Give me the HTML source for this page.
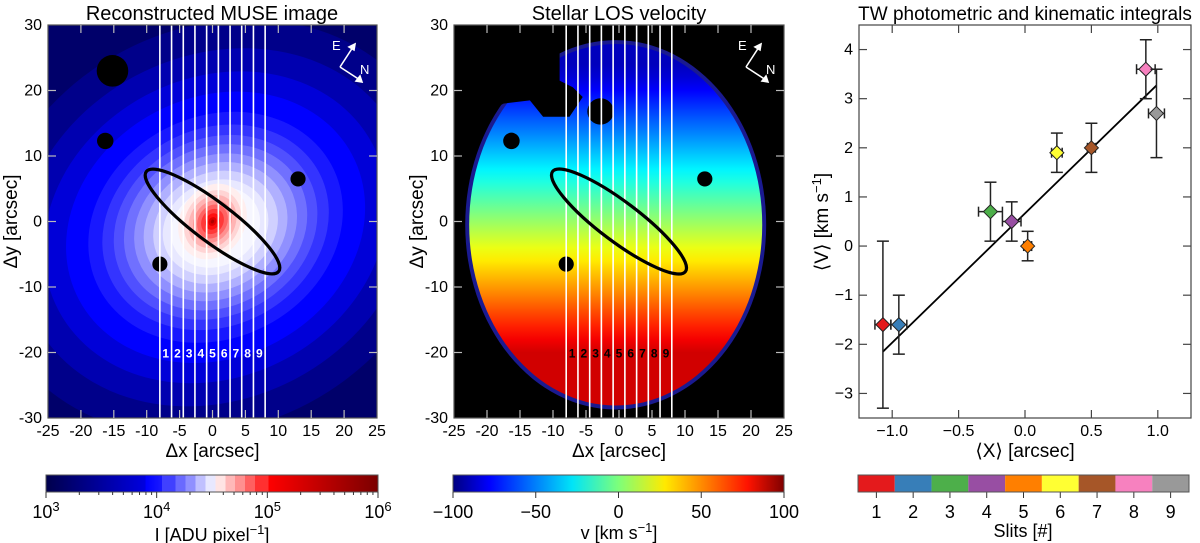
<!DOCTYPE html>
<html><head><meta charset="utf-8"><style>
html,body{margin:0;padding:0;background:#fff;}
svg{display:block;font-family:"Liberation Sans",sans-serif;}
.tl{font-size:16px;fill:#000;}
.cb{font-family:"Liberation Sans Narrow","Liberation Sans",sans-serif;font-size:18px;fill:#000;}
</style></head><body>
<svg id="fig" width="1200" height="543" viewBox="0 0 1200 543" xmlns="http://www.w3.org/2000/svg">
<defs>
 <clipPath id="clipL"><rect x="48" y="25" width="329" height="393"/></clipPath>
 <clipPath id="clipM"><rect x="454" y="25" width="330" height="393"/></clipPath>
 <linearGradient id="cbI" x1="0" x2="1" y1="0" y2="0">
  <stop offset="0" stop-color="#00004c"/><stop offset="0.3" stop-color="#0000e0"/>
  <stop offset="0.3" stop-color="#0000ff"/><stop offset="0.35" stop-color="#1a1aff"/>
  <stop offset="0.35" stop-color="#4040ff"/><stop offset="0.39" stop-color="#4040ff"/>
  <stop offset="0.39" stop-color="#6a6aff"/><stop offset="0.42" stop-color="#6a6aff"/>
  <stop offset="0.42" stop-color="#9090ff"/><stop offset="0.45" stop-color="#9090ff"/>
  <stop offset="0.45" stop-color="#c0c0ff"/><stop offset="0.48" stop-color="#c0c0ff"/>
  <stop offset="0.48" stop-color="#e8e8ff"/><stop offset="0.51" stop-color="#e8e8ff"/>
  <stop offset="0.51" stop-color="#ffe4e4"/><stop offset="0.54" stop-color="#ffe4e4"/>
  <stop offset="0.54" stop-color="#ffb8b8"/><stop offset="0.57" stop-color="#ffb8b8"/>
  <stop offset="0.57" stop-color="#ff9090"/><stop offset="0.6" stop-color="#ff9090"/>
  <stop offset="0.6" stop-color="#ff6060"/><stop offset="0.63" stop-color="#ff6060"/>
  <stop offset="0.63" stop-color="#ff3030"/><stop offset="0.67" stop-color="#ff3030"/>
  <stop offset="0.67" stop-color="#ff0000"/><stop offset="1" stop-color="#7a0000"/>
 </linearGradient>
 <linearGradient id="cbV" x1="0" x2="1" y1="0" y2="0">
  <stop offset="0" stop-color="#00007f"/><stop offset="0.11" stop-color="#0000ff"/>
  <stop offset="0.36" stop-color="#00e4f8"/><stop offset="0.5" stop-color="#7dff7a"/>
  <stop offset="0.64" stop-color="#ffea00"/><stop offset="0.89" stop-color="#ff1300"/>
  <stop offset="1" stop-color="#7f0000"/>
 </linearGradient>
 <linearGradient id="velG" x1="0" x2="0" y1="0" y2="1" gradientUnits="userSpaceOnUse"></linearGradient>
</defs>
<g id="root"></g>
</svg>
<script>
// ---------- data ----------
const slitIds = [1,2,3,4,5,6,7,8,9];
const slitColors = ["#e41a1c","#377eb8","#4daf4a","#984ea3","#ff7f00","#ffff33","#a65628","#f781bf","#999999"];
const meanX = [-1.07,-0.95,-0.26,-0.10,0.02,0.24,0.50,0.91,0.99];
const meanV = [-1.6,-1.6,0.7,0.5,0.0,1.9,2.0,3.6,2.7];
const errV = [1.7,0.6,0.6,0.4,0.3,0.4,0.5,0.6,0.9];
const errX = [0.06,0.06,0.09,0.07,0.03,0.04,0.03,0.07,0.06];
const fitLine = [[-1.07,-2.15],[0.99,3.27]];
const slitEdges = [-8,-6.22,-4.44,-2.67,-0.89,0.89,2.67,4.44,6.22,8];
const imgXTicks = [-25,-20,-15,-10,-5,0,5,10,15,20,25];
const imgYTicks = [-30,-20,-10,0,10,20,30];
const rightXTicks = [-1.0,-0.5,0.0,0.5,1.0];
const rightYTicks = [-3,-2,-1,0,1,2,3,4];
const stars = [[-15.2,23,2.4],[-16.3,12.3,1.25],[13,6.5,1.15],[-8,-6.5,1.15]];
const velTicks = [-100,-50,0,50,100];

const NS="http://www.w3.org/2000/svg";
const root=document.getElementById('root');
function el(tag,attrs,parent,text){const e=document.createElementNS(NS,tag);for(const k in attrs)e.setAttribute(k,attrs[k]);if(text!==undefined)e.textContent=text;(parent||root).appendChild(e);return e;}

function mkPanel(x0){
  const w=x0===48?329:330;
  return {x0:x0,w:w,X:a=>x0+(a+25)*w/50,Y:b=>25+(30-b)*393/60,s:w/50};
}
const L=mkPanel(48), M=mkPanel(454);

// Left image
let gL=el('g',{'clip-path':'url(#clipL)'});


el('rect',{x:48,y:25,width:329,height:393,fill:'#00006a'},gL);
const outerRings=[[36,'#00008a'],[31,'#0000b0'],[27,'#0000d8'],[23.5,'#0000ff'],[20,'#1818ff'],[17.8,'#3434ff'],[16,'#5050ff'],[14.4,'#7070ff'],[12.8,'#9090ff'],[11.3,'#b0b0ff'],[9.8,'#d0d0ff'],[8.3,'#e8e8ff'],[7,'#f6f6ff']];
const coreRings=[[6,'#ffeeee'],[5,'#ffd4d4'],[4.2,'#ffb4b4'],[3.4,'#ff9090'],[2.7,'#ff6464'],[2,'#ff3838'],[1.3,'#ff1010'],[0.7,'#e00000'],[0.3,'#b00000']];
outerRings.forEach(r=>{
  el('ellipse',{cx:L.X(0),cy:L.Y(-1),rx:r[0]*L.s,ry:r[0]*L.s*0.84,fill:r[1],transform:`rotate(-28 ${L.X(0)} ${L.Y(0)})`},gL);
});
coreRings.forEach(r=>{
  el('ellipse',{cx:L.X(0),cy:L.Y(0),rx:r[0]*L.s*0.82,ry:r[0]*L.s,fill:r[1],transform:`rotate(30 ${L.X(0)} ${L.Y(0)})`},gL);
});

// Middle velocity map
function jet(v){let t=(v+100)/200;t=Math.max(0,Math.min(1,t));
  const r=Math.max(0,Math.min(1,1.5-Math.abs(4*t-3))),g=Math.max(0,Math.min(1,1.5-Math.abs(4*t-2))),b=Math.max(0,Math.min(1,1.5-Math.abs(4*t-1)));
  return `rgb(${Math.round(r*255)},${Math.round(g*255)},${Math.round(b*255)})`;}
const vg=document.getElementById('velG');
vg.setAttribute('y1',M.Y(30));vg.setAttribute('y2',M.Y(-30));
for(let b=30;b>=-30;b-=2){const v=Math.max(-88,Math.min(84,5-4*b));el('stop',{offset:((30-b)/60).toFixed(3),'stop-color':jet(v)},vg);}
let gM=el('g',{'clip-path':'url(#clipM)'});


el('rect',{x:454,y:25,width:330,height:393,fill:'#000'},gM);
el('ellipse',{cx:M.X(-0.5),cy:M.Y(-0.5),rx:22.8*M.s,ry:28.2*393/60,fill:'#1a1a90'},gM);
el('ellipse',{cx:M.X(-0.5),cy:M.Y(-0.5),rx:22.2*M.s,ry:27.6*393/60,fill:'url(#velG)'},gM);
el('path',{d:`M${M.X(-25)},${M.Y(30)} L${M.X(-9)},${M.Y(30)} L${M.X(-9)},${M.Y(21.5)} L${M.X(-7)},${M.Y(20.5)} L${M.X(-5.5)},${M.Y(19)} L${M.X(-7.5)},${M.Y(16)} L${M.X(-11.5)},${M.Y(16)} L${M.X(-13.5)},${M.Y(18.5)} L${M.X(-17.5)},${M.Y(18)} L${M.X(-25)},${M.Y(14)} Z`,fill:'#000'},gM);
el('circle',{cx:M.X(-2.8),cy:M.Y(16.8),r:2*M.s,fill:'#000'},gM);

[[L,'#fff','left'],[M,'#000','middle']].forEach(([P,numCol,nm])=>{
  const g=el('g',{'clip-path':`url(#clip${P===L?'L':'M'})`});
  
  
  stars.forEach((s,i)=>{ if(P===M&&i===0)return;
    const c=el('circle',{cx:P.X(s[0]),cy:P.Y(s[1]),r:s[2]*P.s,fill:'#000'},g);
    
    
  });
  slitEdges.forEach(e=>{const l=el('line',{x1:P.X(e),x2:P.X(e),y1:25,y2:418,stroke:'#fff','stroke-width':1.6},g);
    
    });
  slitIds.forEach((id,i)=>{const t=el('text',{x:(P.X(slitEdges[i])+P.X(slitEdges[i+1]))/2,y:P.Y(-20)+5,'text-anchor':'middle','font-size':12,'font-weight':'bold',fill:numCol},g,String(id));
    
    });
  const ell=el('ellipse',{cx:P.X(0),cy:P.Y(0),rx:12.6*P.s,ry:3.0*P.s,fill:'none',stroke:'#000','stroke-width':3.2,transform:`rotate(37 ${P.X(0)} ${P.Y(0)})`},g);
  
  
  const ox=P.x0+292, oy=67;
  const cg=el('g',{stroke:'#fff','stroke-width':1.6,fill:'#fff'});
  
  
  el('line',{x1:ox,y1:oy,x2:ox+13,y2:oy-20},cg);
  el('line',{x1:ox,y1:oy,x2:ox+20,y2:oy+13},cg);
  el('path',{d:`M${ox+15},${oy-23} l-6,3 l5,3z`},cg);
  el('path',{d:`M${ox+22},${oy+15} l-2,-6 l-4,5z`},cg);
  el('text',{x:ox-8,y:oy-17,'font-size':13,stroke:'none'},cg,'E');
  el('text',{x:ox+20,y:oy+7,'font-size':13,stroke:'none'},cg,'N');
  const f=el('rect',{x:P.x0,y:25,width:P.w,height:393,fill:'none',stroke:'#555','stroke-width':1.2});
  
  
  imgXTicks.forEach(t=>{const x=P.X(t);
    if(t>-25&&t<25){el('line',{x1:x,x2:x,y1:418,y2:410,stroke:'#bbb','stroke-width':1.2});el('line',{x1:x,x2:x,y1:25,y2:33,stroke:'#bbb','stroke-width':1.2});}
    const tt=el('text',{x:x,y:436,'text-anchor':'middle',class:'tl'},root,String(t));
    
    });
  imgYTicks.forEach(t=>{const y=P.Y(t);
    if(t>-30&&t<30){el('line',{x1:P.x0,x2:P.x0+8,y1:y,y2:y,stroke:'#bbb','stroke-width':1.2});el('line',{x1:P.x0+P.w-8,x2:P.x0+P.w,y1:y,y2:y,stroke:'#bbb','stroke-width':1.2});}
    const tt=el('text',{x:P.x0-6,y:y+5,'text-anchor':'end',class:'tl'},root,String(t));
    
    });
  const xl=el('text',{x:P.x0+P.w/2,y:457,'text-anchor':'middle','font-size':19,'xml:space':'preserve'},root,'Δx  [arcsec]');
  
  
  const yl=el('text',{x:0,y:0,'text-anchor':'middle','font-size':19,'xml:space':'preserve',transform:`translate(${P.x0-31},${25+393/2}) rotate(-90)`},root,'Δy  [arcsec]');
  
  
});
let t1=el('text',{x:212,y:20,'text-anchor':'middle','font-size':20},root,'Reconstructed MUSE image');


let t2=el('text',{x:619,y:20,'text-anchor':'middle','font-size':20},root,'Stellar LOS velocity');



// ---------- right scatter ----------
const RX=a=>859+(a+1.25)*332/2.5, RY=b=>25+(4.5-b)*393/8;
let t3=el('text',{x:1025,y:20,'text-anchor':'middle','font-size':19},root,'TW photometric and kinematic integrals');


let rf=el('rect',{x:859,y:25,width:332,height:393,fill:'#fff',stroke:'#444','stroke-width':1.2});


rightXTicks.forEach(t=>{const x=RX(t);
  el('line',{x1:x,x2:x,y1:418,y2:410,stroke:'#444','stroke-width':1.2});el('line',{x1:x,x2:x,y1:25,y2:33,stroke:'#444','stroke-width':1.2});
  const tt=el('text',{x:x,y:436,'text-anchor':'middle',class:'tl'},root,(t<0?'−':'')+Math.abs(t).toFixed(1));
  
  });
rightYTicks.forEach(t=>{const y=RY(t);
  el('line',{x1:859,x2:867,y1:y,y2:y,stroke:'#444','stroke-width':1.2});el('line',{x1:1183,x2:1191,y1:y,y2:y,stroke:'#444','stroke-width':1.2});
  const tt=el('text',{x:853,y:y+5,'text-anchor':'end',class:'tl'},root,(t<0?'−':'')+Math.abs(t));
  
  });
let fl=el('line',{x1:RX(fitLine[0][0]),y1:RY(fitLine[0][1]),x2:RX(fitLine[1][0]),y2:RY(fitLine[1][1]),stroke:'#000','stroke-width':1.8});


meanX.forEach((x,i)=>{
  const g=el('g',{stroke:'#222','stroke-width':1.5});
  
  
  const cx=RX(x),cy=RY(meanV[i]),y1=RY(meanV[i]+errV[i]),y2=RY(meanV[i]-errV[i]),x1=RX(x-errX[i]),x2=RX(x+errX[i]);
  el('line',{x1:cx,x2:cx,y1:y1,y2:y2},g);
  el('line',{x1:cx-6,x2:cx+6,y1:y1,y2:y1},g);el('line',{x1:cx-6,x2:cx+6,y1:y2,y2:y2},g);
  el('line',{x1:x1,x2:x2,y1:cy,y2:cy},g);
  el('line',{x1:x1,x2:x1,y1:cy-5,y2:cy+5},g);el('line',{x1:x2,x2:x2,y1:cy-5,y2:cy+5},g);
  el('path',{d:`M${cx},${cy-7} L${cx+7},${cy} L${cx},${cy+7} L${cx-7},${cy}Z`,fill:slitColors[i],'stroke-width':1},g);
});
let rxl=el('text',{x:1025,y:457,'text-anchor':'middle','font-size':19},root,'⟨X⟩ [arcsec]');


let ryl=el('text',{x:0,y:0,'text-anchor':'middle','font-size':19,transform:`translate(828,222) rotate(-90)`},root);


ryl.innerHTML='⟨V⟩ [km s<tspan dy="-7" font-size="13">−1</tspan><tspan dy="7">]</tspan>';

// ---------- colorbars ----------
const cbY=475,cbH=17;
let c1=el('rect',{x:46,y:cbY,width:332,height:cbH,fill:'url(#cbI)',stroke:'#555','stroke-width':1});


for(let d=3;d<6;d++)for(let m=1;m<10;m++){const x=46+(d-3+Math.log10(m))*332/3;el('line',{x1:x,x2:x,y1:cbY+cbH,y2:cbY+cbH+(m===1?6:3),stroke:'#333'});}
el('line',{x1:378,x2:378,y1:cbY+cbH,y2:cbY+cbH+6,stroke:'#333'});
[3,4,5,6].forEach((d,i)=>{const t=el('text',{x:46+i*332/3,y:518,'text-anchor':'middle',class:'cb'});
  
  
  t.innerHTML=`10<tspan dy="-7" font-size="13">${d}</tspan>`;});
let c1l=el('text',{x:212,y:541,'text-anchor':'middle',class:'cb'});


c1l.innerHTML='I [ADU pixel<tspan dy="-7" font-size="13">−1</tspan><tspan dy="7">]</tspan>';

let c2=el('rect',{x:453,y:cbY,width:331,height:cbH,fill:'url(#cbV)',stroke:'#555','stroke-width':1});


velTicks.forEach(v=>{const x=453+(v+100)/200*331;el('line',{x1:x,x2:x,y1:cbY+cbH,y2:cbY+cbH+6,stroke:'#333'});
  const t=el('text',{x:x,y:518,'text-anchor':'middle',class:'cb'},root,(v<0?'−':'')+Math.abs(v));
  
  });
let c2l=el('text',{x:619,y:539,'text-anchor':'middle',class:'cb'});


c2l.innerHTML='v [km s<tspan dy="-7" font-size="13">−1</tspan><tspan dy="7">]</tspan>';

const sw=331/9;
slitIds.forEach((id,i)=>{const x=858+i*sw;
  const r=el('rect',{x:x,y:cbY,width:sw,height:cbH,fill:slitColors[i]});
  
  
  el('line',{x1:x+sw/2,x2:x+sw/2,y1:cbY+cbH,y2:cbY+cbH+6,stroke:'#333'});
  const t=el('text',{x:x+sw/2,y:518,'text-anchor':'middle',class:'cb'},root,String(id));
  
  });
let c3=el('rect',{x:858,y:cbY,width:331,height:cbH,fill:'none',stroke:'#555','stroke-width':1});


let c3l=el('text',{x:1023,y:537,'text-anchor':'middle',class:'cb'},root,'Slits [#]');


</script>
</body></html>
